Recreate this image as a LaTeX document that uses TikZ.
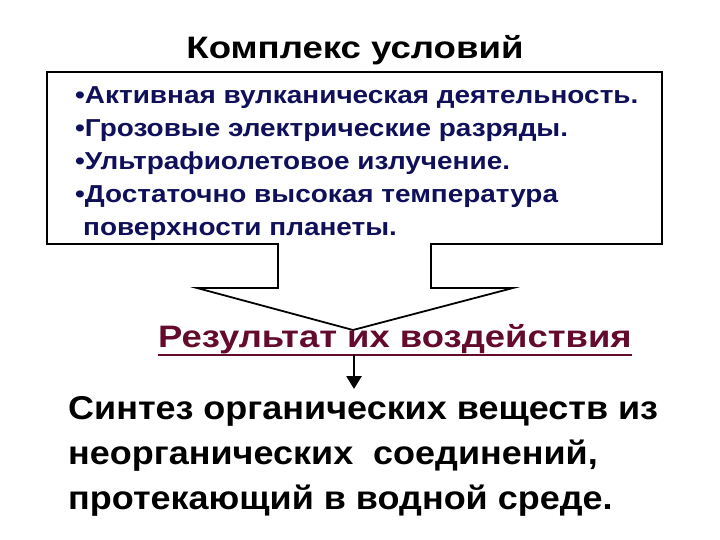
\documentclass[tikz,border=0pt]{standalone}
\usepackage{fontspec}
\setmainfont{Liberation Sans}
\newfontfamily\titlefont{Liberation Sans}[FakeStretch=1.18]
\newfontfamily\boxfont{Liberation Sans}[FakeStretch=1.14]
\newfontfamily\resfont{Liberation Sans}[FakeStretch=1.175]
\newfontfamily\synfont{Liberation Sans}[FakeStretch=1.09]
\usetikzlibrary{arrows.meta}
\definecolor{navy}{RGB}{16,16,90}
\definecolor{maroon}{RGB}{100,10,45}
\tikzset{
  txt/.style={anchor=base west, inner sep=0pt, font=\boxfont\bfseries\fontsize{24.5}{24.5}\selectfont, text=navy},
  big/.style={anchor=base west, inner sep=0pt, font=\synfont\bfseries\fontsize{33}{33}\selectfont, text=black},
  callout/.style={draw=black, line width=1.8pt, fill=white, line join=miter}
}
\begin{document}
\begin{tikzpicture}[x=1pt,y=-1pt]
\useasboundingbox (0,0) rectangle (720,540);
\node[anchor=base, inner sep=0pt, font=\titlefont\bfseries\fontsize{31}{31}\selectfont] (title) at (355,59) {Комплекс условий};
\draw[callout] (47,72) -- (662,72) -- (662,244) -- (431,244) -- (431,288) -- (513,288) -- (353,330) -- (197,288) -- (278,288) -- (278,244) -- (47,244) -- cycle;
\node[txt] (l1) at (75,104) {•Активная вулканическая деятельность.};
\node[txt] (l2) at (75,137) {•Грозовые электрические разряды.};
\node[txt] (l3) at (75,170) {•Ультрафиолетовое излучение.};
\node[txt] (l4) at (75,203) {•Достаточно высокая температура};
\node[txt] (l5) at (83,236) {поверхности планеты.};
\node[anchor=base west, inner sep=0pt, font=\resfont\bfseries\fontsize{31}{31}\selectfont, text=maroon] (res) at (158,347) {Результат их воздействия};
\draw[maroon, line width=2pt] ([yshift=-1pt]res.south west) -- ([yshift=-1pt]res.south east);
\coordinate (a1) at (354,355);
\coordinate (a2) at (354,389);
\draw[line width=2.8pt, -{Triangle[length=13pt,width=15pt]}] (a1) -- (a2);
\node[big] (s1) at (68,419) {Синтез органических веществ из};
\node[big] (s2) at (68,464) {неорганических\ \ соединений,};
\node[big] (s3) at (68,509) {протекающий в водной среде.};
\end{tikzpicture}
\end{document}
